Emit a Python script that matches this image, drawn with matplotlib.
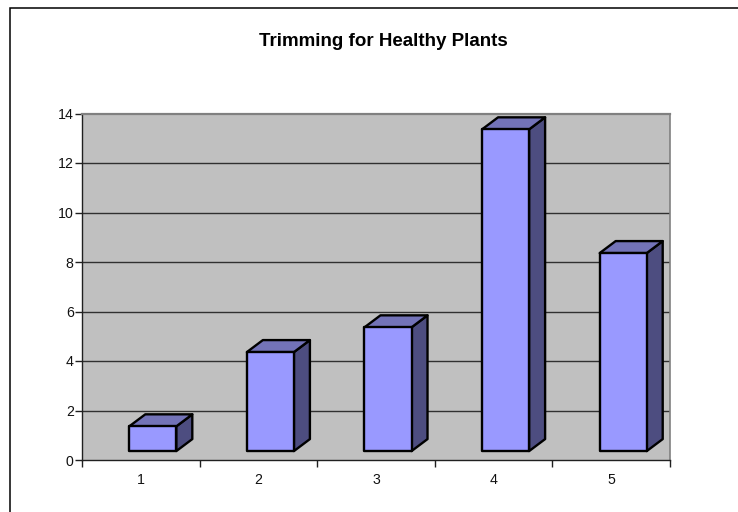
import matplotlib
matplotlib.use("Agg")
import matplotlib.pyplot as plt
from matplotlib.patches import Polygon, Rectangle

plt.rcParams['font.family'] = ['Liberation Sans', 'DejaVu Sans']

title = "Trimming for Healthy Plants"
categories = [1, 2, 3, 4, 5]
values = [1, 4, 5, 13, 8]
yticks = [0, 2, 4, 6, 8, 10, 12, 14]

W, H = 738, 512
fig = plt.figure(figsize=(W / 100, H / 100), dpi=100, facecolor='white')
L, R, T, B = 82, 670, 113.5, 460
ax = fig.add_axes([L / W, 1 - B / H, (R - L) / W, (B - T) / H], facecolor='#C0C0C0')
ax.set_xlim(0.5, 5.5)
ax.set_ylim(0, 14)

# outer chart frame
fig.add_artist(Rectangle((9.5 / W, -0.1), 2, 1.1 - 7.5 / H, transform=fig.transFigure,
                         fill=False, ec='black', lw=1.1))

# grid
for v in yticks[1:-1]:
    ax.axhline(v, color='#303030', lw=1.0, zorder=1)

# spines
ax.spines['top'].set_color('#808080')
ax.spines['right'].set_color('#808080')
ax.spines['top'].set_linewidth(1.6)
ax.spines['right'].set_linewidth(1.2)
ax.spines['left'].set_color('#202020')
ax.spines['bottom'].set_color('#202020')
ax.spines['left'].set_linewidth(1.0)
ax.spines['bottom'].set_linewidth(1.0)

# pseudo-3D bars
bw = 0.40
ox, oy = 0.102, 0.36     # front face offset from category centre and floor
dx, dy = 0.136, 0.485    # extrusion depth
edge = dict(edgecolor='black', linewidth=1.7, joinstyle='round', zorder=3)
for c, v in zip(categories, values):
    x0 = c + ox - bw / 2
    x1 = x0 + bw
    y0 = oy
    y1 = oy + v
    ax.add_patch(Polygon([(x1, y0), (x1 + dx, y0 + dy), (x1 + dx, y1 + dy), (x1, y1)],
                         facecolor='#4D4D80', **edge))
    ax.add_patch(Polygon([(x0, y1), (x1, y1), (x1 + dx, y1 + dy), (x0 + dx, y1 + dy)],
                         facecolor='#7373B8', **edge))
    ax.add_patch(Polygon([(x0, y0), (x1, y0), (x1, y1), (x0, y1)],
                         facecolor='#9999FF', **edge))

# ticks
ax.set_yticks(yticks)
ax.set_xticks([0.5, 1.5, 2.5, 3.5, 4.5, 5.5])
ax.set_xticklabels([])
ax.tick_params(axis='both', length=5, width=1.0, color='#202020', direction='out')
ax.tick_params(axis='y', labelsize=10.2, pad=1, labelcolor='#111111')
ax.xaxis.get_major_ticks()[-1].tick1line.set_color('#808080')
for c in categories:
    ax.annotate(str(c), (c, 0), xytext=(0, -14.6), textcoords='offset points',
                ha='center', va='center', fontsize=10.2, color='#111111', annotation_clip=False)

fig.text(383 / W, 1 - 41 / H, title, ha='center', va='center',
         fontsize=13.5, fontweight='bold', color='black')

fig.savefig('out.png', dpi=100, facecolor='white')
